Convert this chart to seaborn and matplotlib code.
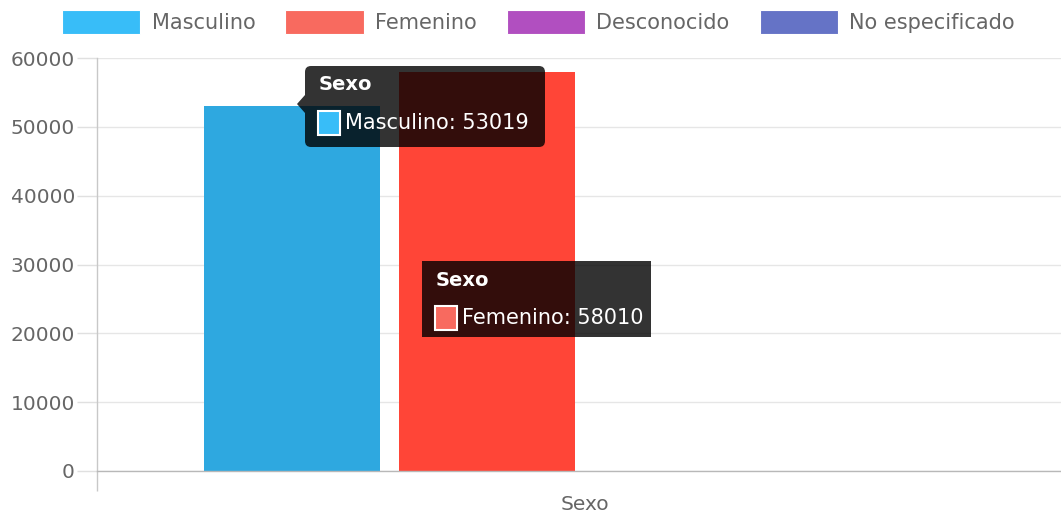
"""Bar chart of records by sex, with two hover tooltips drawn on top."""

import matplotlib

matplotlib.use("Agg")
import matplotlib.pyplot as plt
import pandas as pd
import seaborn as sns
from matplotlib.patches import FancyBboxPatch, Patch, Polygon, Rectangle
from matplotlib.transforms import IdentityTransform

# data
CATEGORY = "Sexo"
SERIES = ["Masculino", "Femenino", "Desconocido", "No especificado"]
VALUES = [53019, 58010, 30, 0]

# colours: bars are shown in their (darker) hover state, legend keeps the base colour
BAR_COLORS = ["#2EA8E0", "#FF4537", "#A84AB8", "#5F6DC0"]
LEGEND_COLORS = ["#38BDF8", "#F86A5F", "#B14FC0", "#6573C6"]

W, H = 1061, 515
TEXT = "#666666"

sns.set_theme(style="white")
plt.rcParams["font.family"] = ["DejaVu Sans"]

fig = plt.figure(figsize=(W / 100, H / 100), dpi=100)
# the plot area runs a little past the right edge of the image, as in the source
ax = fig.add_axes([97 / W, 44 / H, 975 / W, 413 / H])

df = pd.DataFrame({"grupo": [CATEGORY] * len(SERIES), "serie": SERIES, "valor": VALUES})
sns.barplot(
    data=df, x="grupo", y="valor", hue="serie", hue_order=SERIES,
    palette=BAR_COLORS, width=0.8, gap=0.1, saturation=1,
    edgecolor="none", legend=False, ax=ax,
)

ax.set_xlim(-0.5, 0.5)
ax.set_ylim(0, 60000)
ax.set_yticks(range(0, 60001, 10000))
ax.set_xlabel("")
ax.set_ylabel("")
ax.set_axisbelow(True)
ax.grid(axis="y", color="#e6e6e6", lw=1)
ax.grid(axis="x", visible=False)

for side in ["top", "right"]:
    ax.spines[side].set_visible(False)
ax.spines["left"].set_color("#c8c8c8")
ax.spines["bottom"].set_color("#b8b8b8")
ax.spines["left"].set_linewidth(1)
ax.spines["bottom"].set_linewidth(1)

ax.tick_params(axis="y", left=True, length=14.4, width=1, color="#e0e0e0",
               labelcolor=TEXT, labelsize=14.5, pad=1.5)
ax.tick_params(axis="x", which="major", bottom=True, length=0, labelcolor=TEXT,
               labelsize=14.5, pad=17)
ax.set_xticks([-0.5], minor=True)
ax.tick_params(axis="x", which="minor", bottom=True, length=14.4, width=1,
               color="#c8c8c8")

handles = [Patch(facecolor=c, edgecolor="#ffffff", lw=0.8, label=s)
           for s, c in zip(SERIES, LEGEND_COLORS)]
fig.legend(
    handles=handles, ncol=4, loc="center",
    bbox_to_anchor=(538.5 / W, 1 - 22 / H), frameon=False,
    fontsize=15, labelcolor=TEXT, handlelength=3.75, handleheight=1.4,
    handletextpad=0.55, columnspacing=1.44, borderaxespad=0,
)


def px(x, y):
    """Pixel position measured from the top-left corner -> display coords."""
    return x, H - y


def tooltip(box, title, label, color, rounded=True, caret=None):
    x0, y0, x1, y1 = box
    bx, by = px(x0, y1)
    style = "round,pad=0,rounding_size=6" if rounded else "square,pad=0"
    fig.add_artist(FancyBboxPatch(
        (bx, by), x1 - x0, y1 - y0, boxstyle=style,
        facecolor=(0, 0, 0, 0.8), edgecolor="none",
        transform=IdentityTransform(), zorder=5,
    ))
    if caret is not None:
        fig.add_artist(Polygon(
            [px(*p) for p in caret], closed=True, facecolor=(0, 0, 0, 0.8),
            edgecolor="none", transform=IdentityTransform(), zorder=5,
        ))
    tx, ty = px(x0 + 14, y0 + 19)
    fig.text(tx / W, ty / H, title, color="white", fontsize=14,
             fontweight="bold", va="center", ha="left", zorder=6)
    sx, sy = px(x0 + 13, y0 + 69)
    fig.add_artist(Rectangle(
        (sx, sy), 22, 24, facecolor=color, edgecolor="white", lw=1.5,
        transform=IdentityTransform(), zorder=6,
    ))
    lx, ly = px(x0 + 40, y0 + 57)
    fig.text(lx / W, ly / H, label, color="white", fontsize=15,
             va="center", ha="left", zorder=6)


tooltip((305, 66, 545, 147), CATEGORY, f"{SERIES[0]}: {VALUES[0]}",
        LEGEND_COLORS[0], caret=[(305, 95), (297, 104), (305, 113)])
tooltip((422, 261, 651, 337), CATEGORY, f"{SERIES[1]}: {VALUES[1]}",
        LEGEND_COLORS[1], rounded=False)

fig.savefig("out.png", dpi=100)
